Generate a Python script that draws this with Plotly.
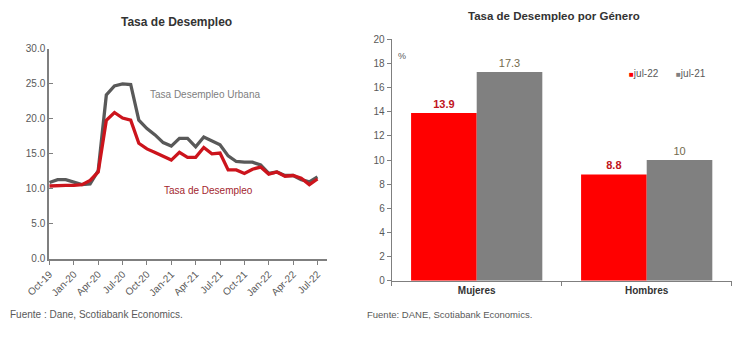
import plotly.graph_objects as go

W, H = 746, 345

# ---- Left chart data (monthly, Oct-19 .. Jul-22) ----
months = ["Oct-19", "Nov-19", "Dec-19", "Jan-20", "Feb-20", "Mar-20", "Apr-20", "May-20",
          "Jun-20", "Jul-20", "Aug-20", "Sep-20", "Oct-20", "Nov-20", "Dec-20", "Jan-21",
          "Feb-21", "Mar-21", "Apr-21", "May-21", "Jun-21", "Jul-21", "Aug-21", "Sep-21",
          "Oct-21", "Nov-21", "Dec-21", "Jan-22", "Feb-22", "Mar-22", "Apr-22", "May-22",
          "Jun-22", "Jul-22"]
urbana = [10.9, 11.3, 11.3, 10.9, 10.6, 10.7, 12.6, 23.4, 24.7, 25.0, 24.9, 19.8,
          18.6, 17.7, 16.6, 16.1, 17.2, 17.2, 16.0, 17.4, 16.9, 16.3, 14.7, 13.9,
          13.8, 13.8, 13.4, 12.2, 12.4, 11.9, 11.9, 11.3, 11.0, 11.7]
nacional = [10.4, 10.5, 10.5, 10.5, 10.6, 11.2, 12.4, 19.8, 20.9, 20.1, 19.8, 16.5,
            15.7, 15.2, 14.6, 14.1, 15.2, 14.5, 14.5, 15.9, 15.0, 15.1, 12.7, 12.7,
            12.2, 12.8, 13.1, 12.1, 12.4, 11.8, 11.9, 11.5, 10.6, 11.4]
tick_labels = ["Oct-19", "Jan-20", "Apr-20", "Jul-20", "Oct-20", "Jan-21",
               "Apr-21", "Jul-21", "Oct-21", "Jan-22", "Apr-22", "Jul-22"]

# ---- Right chart data ----
generos = ["Mujeres", "Hombres"]
jul22 = [13.9, 8.8]
jul21 = [17.3, 10]

FONT = "Arial, Liberation Sans, sans-serif"
AX = "#7f7f7f"
TXT = "#595959"

x_idx = list(range(len(months)))
tickvals = [x_idx[months.index(t)] for t in tick_labels]

fig = go.Figure()

fig.add_trace(go.Scatter(x=x_idx, y=urbana, mode="lines", name="Tasa Desempleo Urbana",
                         line=dict(color="#595959", width=3.3), xaxis="x", yaxis="y",
                         showlegend=False))
fig.add_trace(go.Scatter(x=x_idx, y=nacional, mode="lines", name="Tasa de Desempleo",
                         line=dict(color="#cc141c", width=3.3), xaxis="x", yaxis="y",
                         showlegend=False))

fig.add_trace(go.Bar(x=generos, y=jul22, name="jul-22", marker=dict(color="#ff0000", line=dict(width=0)),
                     texttemplate="<b>%{y}</b>", textposition="outside",
                     outsidetextfont=dict(family=FONT, size=11, color="#c0141c"),
                     xaxis="x2", yaxis="y2", showlegend=False, cliponaxis=False))
fig.add_trace(go.Bar(x=generos, y=jul21, name="jul-21", marker=dict(color="#808080", line=dict(width=0)),
                     texttemplate="%{y}", textposition="outside",
                     outsidetextfont=dict(family=FONT, size=11, color="#736b4e"),
                     xaxis="x2", yaxis="y2", showlegend=False, cliponaxis=False))

def px(x):
    return x / W

def py(y):
    return 1 - y / H

annotations = [
    dict(text="<b>Tasa de Desempleo</b>", x=px(176.5), y=py(21.5), font=dict(size=12, color="#333333")),
    dict(text="<b>Tasa de Desempleo por Género</b>", x=px(553.5), y=py(15.5), font=dict(size=11.5, color="#333333")),
    dict(text="Tasa Desempleo Urbana", x=px(204.5), y=py(94), font=dict(size=10, color="#808080")),
    dict(text="Tasa de Desempleo", x=px(208.8), y=py(191), font=dict(size=10, color="#a3262e")),
    dict(text="Fuente : Dane, Scotiabank Economics.", x=px(8), y=py(314), xanchor="left",
         font=dict(size=10, color=TXT)),
    dict(text="Fuente: DANE, Scotiabank Economics.", x=px(365), y=py(314), xanchor="left",
         font=dict(size=9.5, color=TXT)),
    dict(text="%", x=px(401.5), y=py(56), font=dict(size=9, color=TXT)),
    dict(text='<span style="color:#ff0000;font-size:8px">■</span>jul-22', x=px(626.5), y=py(73.5),
         xanchor="left", font=dict(size=10, color=TXT)),
    dict(text='<span style="color:#808080;font-size:8px">■</span>jul-21', x=px(673.5), y=py(73.5),
         xanchor="left", font=dict(size=10, color=TXT)),
]
for a in annotations:
    a.setdefault("xanchor", "center")
    a.update(xref="paper", yref="paper", yanchor="middle", showarrow=False)
    a["font"]["family"] = FONT

fig.update_layout(
    width=W, height=H,
    margin=dict(l=0, r=0, t=0, b=0, pad=0, autoexpand=False),
    paper_bgcolor="white", plot_bgcolor="white",
    font=dict(family=FONT, size=10, color=TXT),
    barmode="group", bargap=0.228, bargroupgap=0,
    annotations=annotations,
    xaxis=dict(domain=[px(49), px(327.3)], range=[-0.06, 34.21], tickmode="array",
               tickvals=tickvals, ticktext=tick_labels, tickangle=-45, automargin=False,
               ticks="outside", ticklen=4, tickcolor=AX, showline=True, linecolor=AX,
               linewidth=1.5, showgrid=False, zeroline=False, anchor="y",
               tickfont=dict(size=10, color=TXT)),
    yaxis=dict(domain=[py(258.8), py(48.8)], range=[0, 30], dtick=5, tickformat=".1f",
               ticks="inside", ticklen=4, tickcolor=AX, showline=True, linecolor=AX,
               linewidth=1.5, showgrid=False, zeroline=False, anchor="x", automargin=False,
               tickfont=dict(size=10, color=TXT)),
    xaxis2=dict(domain=[px(391.7), px(731.7)], type="category", tickson="boundaries",
                ticks="outside", ticklen=4, tickcolor=AX, showline=True, linecolor=AX,
                linewidth=1, showgrid=False, zeroline=False, anchor="y2", automargin=False,
                tickfont=dict(size=10, color="#333333", weight="bold")),
    yaxis2=dict(domain=[py(280.7), py(39.3)], range=[0, 20], dtick=2, automargin=False,
                ticks="outside", ticklen=4, tickcolor=AX, showline=True, linecolor=AX,
                linewidth=1, showgrid=False, zeroline=False, anchor="x2",
                tickfont=dict(size=10, color=TXT)),
)

fig.write_html("out.html")
